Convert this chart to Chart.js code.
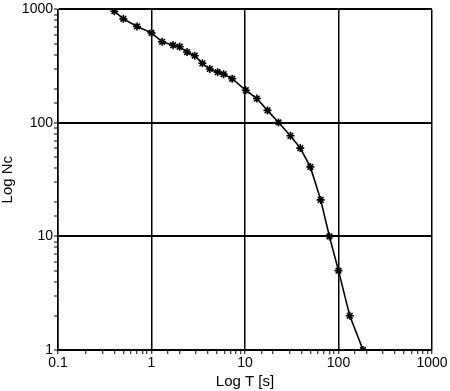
<!DOCTYPE html>
<html>
<head>
<meta charset="utf-8">
<script src="https://cdn.jsdelivr.net/npm/chart.js@4.4.1/dist/chart.umd.min.js"></script>
<style>
  html, body { margin: 0; padding: 0; background: #fff; }
  #wrap { width: 450px; height: 391px; }
</style>
</head>
<body>
<div id="wrap"><canvas id="chart" width="450" height="391"></canvas></div>
<script>
// time values (s) and counts
const timeS = [0.40, 0.50, 0.70, 1.0, 1.3, 1.7, 2.0, 2.4, 2.9, 3.5, 4.2, 5.1, 5.9, 7.3,
  10.2, 13.4, 17.4, 22.8, 30.6, 39, 50, 64.5, 80, 100, 132, 183];
const countNc = [964, 826, 708, 621, 518, 484, 469, 421, 391, 335, 299, 280, 269, 245,
  194, 164, 129, 101, 77, 60, 41, 21, 10, 5, 2, 1];

const xRange = [0.1, 1000];
const yRange = [1, 1000];

function isMajor(v) {
  const l = Math.log10(v);
  return Math.abs(l - Math.round(l)) < 1e-9;
}

const points = timeS.map((t, i) => ({ x: t, y: countNc[i] }));
const font = { family: 'Liberation Sans, Arial, sans-serif', size: 14 };

function axisGrid(width) {
  return {
    color: c => (c.tick && isMajor(c.tick.value)) ? '#000' : 'rgba(0,0,0,0)',
    lineWidth: width,
    tickColor: '#000',
    tickLength: 4,
    tickWidth: 1
  };
}

new Chart(document.getElementById('chart'), {
  type: 'scatter',
  data: {
    datasets: [{
      data: points,
      showLine: true,
      borderColor: '#000',
      borderWidth: 1.6,
      pointStyle: 'star',
      pointRadius: 4,
      pointBorderWidth: 1.6,
      pointBorderColor: '#000',
      pointBackgroundColor: '#000',
      tension: 0
    }]
  },
  options: {
    responsive: false,
    animation: false,
    layout: { padding: { top: 5, right: 18, left: 0, bottom: 0 } },
    plugins: { legend: { display: false }, tooltip: { enabled: false } },
    scales: {
      x: {
        type: 'logarithmic',
        min: xRange[0],
        max: xRange[1],
        grid: axisGrid(1.5),
        border: { color: '#000', width: 1.5 },
        ticks: {
          autoSkip: false,
          maxRotation: 0,
          padding: 1,
          color: '#000',
          font: font,
          callback: v => isMajor(v) ? String(v) : ''
        },
        title: {
          display: true,
          text: 'Log T [s]',
          color: '#000',
          font: { family: font.family, size: 15 },
          padding: { top: 0, bottom: 0 }
        },
        afterFit: s => { s.height = 41; }
      },
      y: {
        type: 'logarithmic',
        min: yRange[0],
        max: yRange[1],
        grid: axisGrid(2),
        border: { color: '#000', width: 1.5 },
        ticks: {
          autoSkip: false,
          padding: 1,
          color: '#000',
          font: font,
          callback: v => isMajor(v) ? String(v) : ''
        },
        title: {
          display: true,
          text: 'Log Nc',
          color: '#000',
          font: { family: font.family, size: 15, lineHeight: 1 },
          padding: { top: 0, bottom: 0 }
        },
        afterFit: s => { s.width = 58; }
      }
    }
  }
});
</script>
</body>
</html>
